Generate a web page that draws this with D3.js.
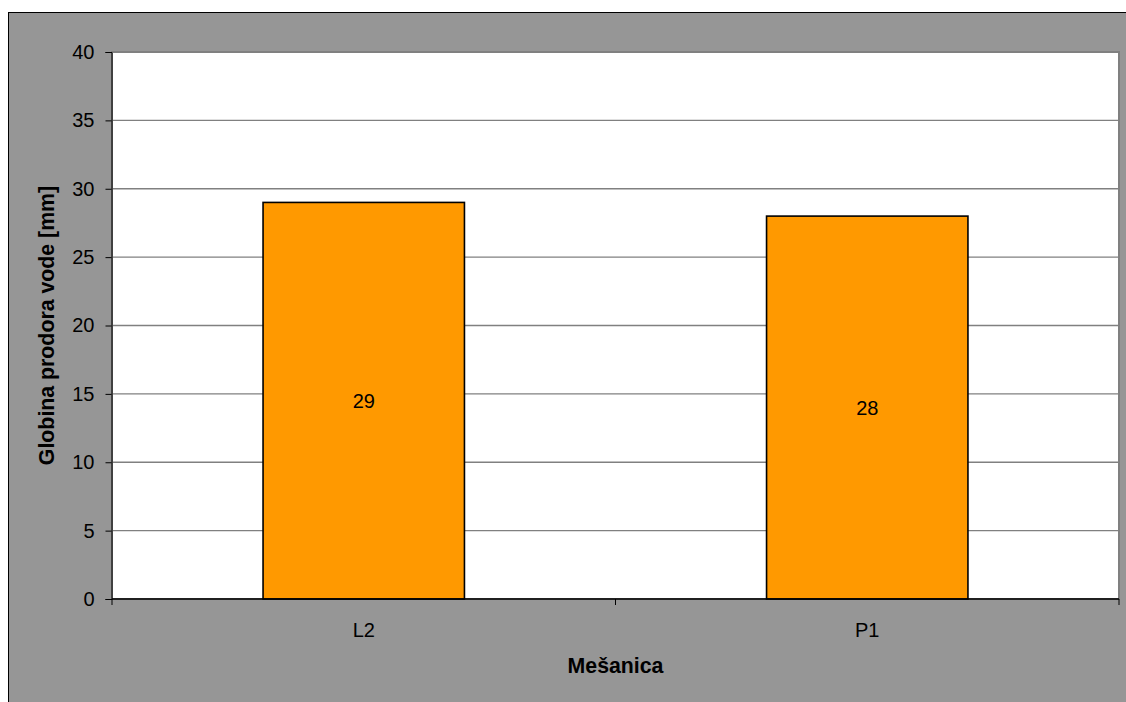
<!DOCTYPE html>
<html>
<head>
<meta charset="utf-8">
<script src="https://cdn.jsdelivr.net/npm/d3@7/dist/d3.min.js"></script>
<style>
  html, body { margin: 0; padding: 0; background: #ffffff; }
  svg { display: block; font-family: "Liberation Sans", Arial, sans-serif; }
</style>
</head>
<body>
<svg id="chart" width="1126" height="702"></svg>
<script>
// Water penetration depth per mix
const categories = ["L2", "P1"];
const values = [29, 28];
const yTicks = [0, 5, 10, 15, 20, 25, 30, 35, 40];
const yTitle = "Globina prodora vode [mm]";
const xTitle = "Mešanica";

const svg = d3.select("#chart");
const W = 1126, H = 702;
const plot = { left: 112, top: 52, right: 1119, bottom: 599 };
const labelSize = 20;
const titleSize = 21.3;

// Chart background with frame
svg.append("rect")
  .attr("x", 8.5).attr("y", 12.5)
  .attr("width", W).attr("height", H)
  .attr("fill", "#969696")
  .attr("stroke", "#000").attr("stroke-width", 1);

// Plot area
svg.append("rect")
  .attr("x", plot.left).attr("y", plot.top)
  .attr("width", plot.right - plot.left).attr("height", plot.bottom - plot.top)
  .attr("fill", "#ffffff")
  .attr("stroke", "#808080").attr("stroke-width", 2);

const x = d3.scaleBand()
  .domain(categories)
  .range([plot.left, plot.right])
  .paddingInner(0.6)
  .paddingOuter(0.3);

const y = d3.scaleLinear()
  .domain([0, 40])
  .range([plot.bottom, plot.top]);

// Horizontal gridlines
svg.append("g")
  .selectAll("line")
  .data(yTicks.filter(d => d > 0))
  .join("line")
  .attr("x1", plot.left).attr("x2", plot.right)
  .attr("y1", d => y(d)).attr("y2", d => y(d))
  .attr("stroke", "#808080").attr("stroke-width", 1.3);

// Bars
svg.append("g")
  .selectAll("rect")
  .data(values)
  .join("rect")
  .attr("x", (d, i) => x(categories[i]))
  .attr("y", d => y(d))
  .attr("width", x.bandwidth())
  .attr("height", d => y(0) - y(d))
  .attr("fill", "#ff9900")
  .attr("stroke", "#000").attr("stroke-width", 1.6);

// Value labels centred inside bars
svg.append("g")
  .selectAll("text")
  .data(values)
  .join("text")
  .attr("x", (d, i) => x(categories[i]) + x.bandwidth() / 2)
  .attr("y", d => (y(d) + y(0)) / 2)
  .attr("dy", "0.35em")
  .attr("text-anchor", "middle")
  .attr("font-size", labelSize)
  .attr("fill", "#000")
  .text(d => d);

// Y axis
const yAxis = d3.axisLeft(y)
  .tickValues(yTicks)
  .tickSize(6)
  .tickPadding(11)
  .tickFormat(d3.format("d"));
const gy = svg.append("g")
  .attr("transform", `translate(${plot.left - 0.5},0)`)
  .call(yAxis);
gy.select(".domain").attr("stroke", "#000").attr("stroke-width", 1);
gy.selectAll(".tick line").attr("stroke", "#000");
gy.selectAll(".tick text")
  .attr("font-size", labelSize).attr("fill", "#000")
  .attr("font-family", "Liberation Sans, Arial, sans-serif");

// X axis: baseline, ticks at category boundaries, labels under bars
const gx = svg.append("g");
gx.append("line")
  .attr("x1", plot.left).attr("x2", plot.right)
  .attr("y1", y(0)).attr("y2", y(0))
  .attr("stroke", "#000").attr("stroke-width", 1.3);
const boundaries = [plot.left, (x(categories[0]) + x.bandwidth() + x(categories[1])) / 2, plot.right];
gx.selectAll("line.tk")
  .data(boundaries)
  .join("line")
  .attr("class", "tk")
  .attr("x1", d => d).attr("x2", d => d)
  .attr("y1", y(0)).attr("y2", y(0) + 6)
  .attr("stroke", "#000");
gx.selectAll("text")
  .data(categories)
  .join("text")
  .attr("x", d => x(d) + x.bandwidth() / 2)
  .attr("y", 630)
  .attr("dy", "0.35em")
  .attr("text-anchor", "middle")
  .attr("font-size", labelSize)
  .attr("fill", "#000")
  .text(d => d);

// Axis titles
svg.append("text")
  .attr("x", (plot.left + plot.right) / 2)
  .attr("y", 666)
  .attr("dy", "0.35em")
  .attr("text-anchor", "middle")
  .attr("font-size", titleSize)
  .attr("font-weight", "bold")
  .attr("fill", "#000")
  .text(xTitle);

svg.append("text")
  .attr("transform", `translate(47,${(plot.top + plot.bottom) / 2}) rotate(-90)`)
  .attr("dy", "0.35em")
  .attr("text-anchor", "middle")
  .attr("font-size", titleSize)
  .attr("font-weight", "bold")
  .attr("fill", "#000")
  .text(yTitle);
</script>
</body>
</html>
